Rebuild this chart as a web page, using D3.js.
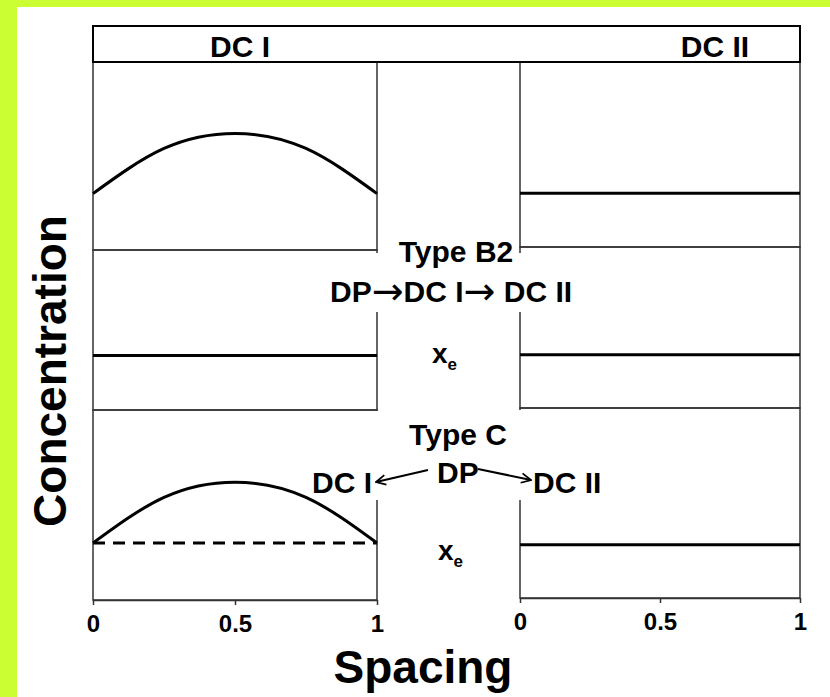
<!DOCTYPE html>
<html>
<head>
<meta charset="utf-8">
<script src="https://cdn.jsdelivr.net/npm/d3@7"></script>
<style>
  body { margin:0; background:#ccff33; }
  svg text { font-family:"Liberation Sans", Arial, sans-serif; font-weight:bold; fill:#000; }
</style>
</head>
<body>
<script>
// spacing positions
var spacing = [0, 0.25, 0.5, 0.75, 1];
var spacingEnds = [0, 1];
var tickValues = [0, 0.5, 1];

// concentration (fraction of panel height) for each panel
var dc1TopConc = [0.30, 0.54, 0.62, 0.54, 0.30];   // DC I, top row (curved)
var dc2TopConc = [0.29, 0.29];                     // DC II, top row
var dc1MidConc = [0.34, 0.34];                     // DC I, type B2
var dc2MidConc = [0.33, 0.33];                     // DC II, type B2
var dc1BotConc = [0.30, 0.54, 0.62, 0.54, 0.30];   // DC I, type C (curved)
var dc1BotXe   = [0.30, 0.30];                     // x_e dashed line
var dc2BotConc = [0.28, 0.28];                     // DC II, type C

var width = 830, height = 697;

var svg = d3.select("body").append("svg").attr("width", width).attr("height", height);

// white page inside the green border
svg.append("rect").attr("x", 17).attr("y", 7).attr("width", width-17).attr("height", height-7).attr("fill", "#fff");

var xLeft = d3.scaleLinear().domain([0, 1]).range([93, 377]);
var xRight = d3.scaleLinear().domain([0, 1]).range([520, 800]);

// panel boxes (left col / right col, three rows each)
var panels = [
  {x:xLeft,  top:62,  bottom:250, pts:spacing,     vals:dc1TopConc},
  {x:xRight, top:62,  bottom:247, pts:spacingEnds, vals:dc2TopConc},
  {x:xLeft,  top:250, bottom:410, pts:spacingEnds, vals:dc1MidConc},
  {x:xRight, top:247, bottom:408, pts:spacingEnds, vals:dc2MidConc},
  {x:xLeft,  top:410, bottom:600, pts:spacing,     vals:dc1BotConc, xe:dc1BotXe},
  {x:xRight, top:408, bottom:598, pts:spacingEnds, vals:dc2BotConc}
];
panels.forEach(function(p){
  p.y = d3.scaleLinear().domain([0, 1]).range([p.bottom, p.top]);
});

var frames = svg.append("g");
panels.forEach(function(p){
  frames.append("rect")
    .attr("x", p.x.range()[0]).attr("y", p.top)
    .attr("width", p.x.range()[1]-p.x.range()[0]).attr("height", p.bottom-p.top)
    .attr("fill", "none").attr("stroke", "#333").attr("stroke-width", 1.5);
});

// header box
svg.append("rect").attr("x", 93).attr("y", 26).attr("width", 707).attr("height", 36)
  .attr("fill", "#fff").attr("stroke", "#000").attr("stroke-width", 2);
svg.append("text").attr("x", 240).attr("y", 57).attr("text-anchor", "middle").attr("font-size", 30).text("DC I");
svg.append("text").attr("x", 715).attr("y", 57).attr("text-anchor", "middle").attr("font-size", 30).text("DC II");

// text boxes with white fill sit over the frame lines
svg.append("rect").attr("x", 325).attr("y", 253).attr("width", 265).attr("height", 59).attr("fill", "#fff");
svg.append("rect").attr("x", 305).attr("y", 411).attr("width", 77).attr("height", 89).attr("fill", "#fff");
svg.append("rect").attr("x", 515).attr("y", 410).attr("width", 85).attr("height", 90).attr("fill", "#fff");

// bottom axes
[panels[4], panels[5]].forEach(function(p){
  var ax = svg.append("g")
    .attr("transform", "translate(0," + p.bottom + ")")
    .call(d3.axisBottom(p.x).tickValues(tickValues).tickSize(5).tickSizeOuter(0).tickPadding(10)
      .tickFormat(function(d){ return d; }));
  ax.select(".domain").attr("stroke", "#333").attr("stroke-width", 1.5);
  ax.selectAll(".tick line").attr("stroke", "#333").attr("stroke-width", 1.5);
  ax.selectAll("text").attr("font-size", 24).attr("font-family", null).attr("fill", "#000");
});

// concentration profiles
panels.forEach(function(p){
  var line = d3.line()
    .x(function(d, i){ return p.x(p.pts[i]); })
    .y(function(d){ return p.y(d); })
    .curve(d3.curveNatural);
  svg.append("path").datum(p.vals).attr("d", line)
    .attr("fill", "none").attr("stroke", "#000").attr("stroke-width", 3);
  if (p.xe) {
    var xeLine = d3.line()
      .x(function(d, i){ return p.x(spacingEnds[i]); })
      .y(function(d){ return p.y(d); });
    svg.append("path").datum(p.xe).attr("d", xeLine)
      .attr("fill", "none").attr("stroke", "#000").attr("stroke-width", 3)
      .attr("stroke-dasharray", "12,8");
  }
});

// annotations
svg.append("text").attr("x", 456).attr("y", 262).attr("text-anchor", "middle").attr("font-size", 30).text("Type B2");
var path = svg.append("text").attr("x", 330).attr("y", 302).attr("font-size", 30);
path.append("tspan").text("DP");
path.append("tspan").attr("font-family", "DejaVu Sans").attr("font-weight", "normal")
  .attr("font-size", 38).attr("dy", 2).text("\u2192");
path.append("tspan").attr("dy", -2).text("DC I");
path.append("tspan").attr("font-family", "DejaVu Sans").attr("font-weight", "normal")
  .attr("font-size", 38).attr("dy", 2).text("\u2192");
path.append("tspan").attr("dy", -2).text(" DC II");

function xe(x, y){
  var t = svg.append("text").attr("x", x).attr("y", y).attr("font-size", 28).text("x");
  t.append("tspan").attr("dy", 7).attr("font-size", 17).text("e");
}
xe(432, 363);
xe(438, 560);

svg.append("text").attr("x", 458).attr("y", 445).attr("text-anchor", "middle").attr("font-size", 30).text("Type C");
svg.append("text").attr("x", 437).attr("y", 483).attr("font-size", 30).text("DP");
svg.append("text").attr("x", 312).attr("y", 493).attr("font-size", 30).text("DC I");
svg.append("text").attr("x", 533).attr("y", 493).attr("font-size", 30).text("DC II");

svg.append("defs").append("marker")
  .attr("id", "head").attr("viewBox", "0 0 10 10").attr("refX", 9).attr("refY", 5)
  .attr("markerWidth", 6).attr("markerHeight", 6).attr("orient", "auto")
  .append("path").attr("d", "M1,1 L9,5 L1,9").attr("fill", "none").attr("stroke", "#000").attr("stroke-width", 1.5);

svg.append("line").attr("x1", 428).attr("y1", 470).attr("x2", 376).attr("y2", 482)
  .attr("stroke", "#000").attr("stroke-width", 2).attr("marker-end", "url(#head)");
svg.append("line").attr("x1", 478).attr("y1", 469).attr("x2", 531).attr("y2", 480)
  .attr("stroke", "#000").attr("stroke-width", 2).attr("marker-end", "url(#head)");

// axis titles
svg.append("text").attr("x", 423).attr("y", 683).attr("text-anchor", "middle").attr("font-size", 46).text("Spacing");
svg.append("text").attr("transform", "translate(66,371) rotate(-90)").attr("text-anchor", "middle")
  .attr("font-size", 46).text("Concentration");
</script>
</body>
</html>
